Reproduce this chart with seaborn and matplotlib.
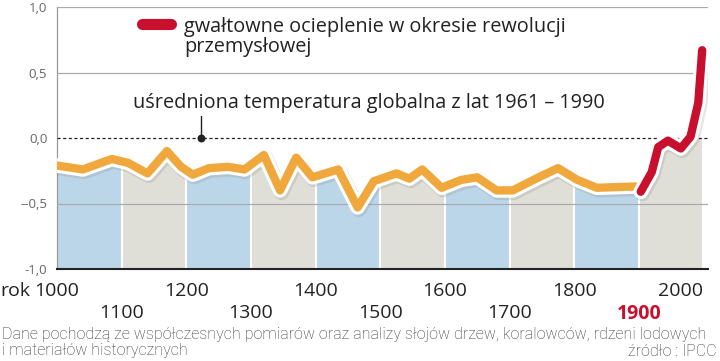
import matplotlib
matplotlib.use("Agg")
import matplotlib.pyplot as plt
import matplotlib.patheffects as pe
from matplotlib.lines import Line2D
import seaborn as sns
import pandas as pd

# dane (anomalia temperatury, st. C)
lata_hist = [1000, 1040, 1085, 1110, 1140, 1170, 1192, 1210, 1235, 1265, 1290, 1320, 1345, 1370,
             1395, 1435, 1465, 1490, 1525, 1545, 1565, 1595, 1625, 1650, 1680, 1705,
             1745, 1775, 1805, 1835, 1895]
temp_hist = [-0.21, -0.24, -0.16, -0.19, -0.27, -0.10, -0.22, -0.28, -0.23, -0.22, -0.24, -0.13,
             -0.40, -0.15, -0.30, -0.24, -0.53, -0.33, -0.27, -0.31, -0.24, -0.38, -0.32, -0.30,
             -0.40, -0.40, -0.30, -0.23, -0.32, -0.38, -0.37]
lata_rew = [1903, 1920, 1930, 1945, 1965, 1980, 1992, 1998]
temp_rew = [-0.41, -0.26, -0.07, -0.02, -0.08, 0.01, 0.27, 0.67]

stulecia = list(range(1000, 2000, 100))
etykiety_gora = ["1000", "1200", "1400", "1600", "1800", "2000"]
etykiety_dol = ["1100", "1300", "1500", "1700", "1900"]
y_ticks = [-1.0, -0.5, 0.0, 0.5, 1.0]
y_etykiety = ["-1,0", "--0,5", "0,0", "0,5", "1,0"]
rok_sredniej = 1223

ORANGE = "#f0a83c"
RED = "#c8102e"
BLUE = "#bbd6e9"
GREY = "#dfded7"

sns.set_theme(style="white")
plt.rcParams["font.family"] = ["Open Sans", "DejaVu Sans"]

df_hist = pd.DataFrame({"rok": lata_hist, "temp": temp_hist})
df_rew = pd.DataFrame({"rok": lata_rew, "temp": temp_rew})
df_all = pd.concat([df_hist, df_rew])

fig = plt.figure(figsize=(7.2, 3.61), dpi=100)
ax = fig.add_axes([57 / 720, 1 - 269 / 361, (708 - 57) / 720, 262 / 361])
ax.set_xlim(1000, 2007)
ax.set_ylim(-1, 1)

# pasy stuleci
for i, s in enumerate(stulecia):
    ax.axvspan(s, s + 100, ymin=0, ymax=0.5, facecolor=BLUE if i % 2 == 0 else GREY,
               edgecolor="white", lw=1.5, zorder=1)
# biale tlo nad krzywa
ax.fill_between(df_all["rok"], df_all["temp"], 0, color="white", lw=0, zorder=2)

for y in [1.0, 0.5, -0.5]:
    ax.axhline(y, color="#aaaaaa", lw=0.9, zorder=3)
ax.axhline(0, color="#222222", lw=0.9, ls=(0, (2.5, 2)), zorder=3)

fx = [pe.SimpleLineShadow(offset=(1, -1.5), shadow_color="#888888", alpha=0.22, linewidth=11),
      pe.Stroke(linewidth=10.5, foreground="white"), pe.Normal()]
sns.lineplot(data=df_hist, x="rok", y="temp", color=ORANGE, lw=6, ax=ax, zorder=5)
sns.lineplot(data=df_rew, x="rok", y="temp", color=RED, lw=6, ax=ax, zorder=6)
for ln in ax.lines[-2:]:
    ln.set_solid_capstyle("round")
    ln.set_solid_joinstyle("round")
    ln.set_path_effects(fx)

# adnotacja sredniej
ax.plot([rok_sredniej, rok_sredniej], [0, 0.17], color="#222222", lw=1, zorder=4)
ax.scatter([rok_sredniej], [0], s=22, color="#222222", zorder=4)
ax.text(1118, 0.265, "uśredniona temperatura globalna z lat 1961 – 1990",
        fontsize=14.3, color="#222222", va="center", ha="left", zorder=7)

# legenda
fig.add_artist(Line2D([142 / 720, 171 / 720], [1 - 24 / 361, 1 - 24 / 361], color=RED,
                      lw=8, solid_capstyle="round"))
fig.text(184 / 720, 1 - 37 / 361, "gwałtowne ocieplenie w okresie rewolucji\nprzemysłowej",
         fontsize=14.3, color="#222222", va="center", ha="left", linespacing=1.05)

# osie
ax.set_yticks(y_ticks, y_etykiety, fontsize=9.5, color="#666666")
ax.tick_params(axis="y", length=0, pad=7)
ax.set_xticks(stulecia[::2] + [2000], etykiety_gora)
ax.set_xticks(stulecia[1::2], etykiety_dol, minor=True)
ax.tick_params(axis="x", which="major", length=0, pad=9, labelsize=14, labelcolor="#222222")
ax.tick_params(axis="x", which="minor", length=0, pad=25, labelsize=14, labelcolor="#222222")
for lab in ax.get_xticklabels(minor=True):
    if lab.get_text() == "1900":
        lab.set_color(RED)
        lab.set_fontweight("bold")
ax.get_xticklabels()[-1].set_ha("right")
ax.set_xlabel("")
ax.set_ylabel("")
fig.text(30 / 720, 1 - 291 / 361, "rok", fontsize=14, color="#222222", ha="right", va="center")

for side in ["top", "right"]:
    ax.spines[side].set_visible(False)
ax.spines["left"].set_color("#999999")
ax.spines["left"].set_linewidth(0.9)
ax.spines["bottom"].set_color("#222222")
ax.spines["bottom"].set_linewidth(1.5)

# podpis
cap = dict(fontsize=11.5, color="#333333", family=["Roboto", "DejaVu Sans"],
           fontweight="light", va="center")
fig.text(2 / 720, 1 - 334 / 361,
         "Dane pochodzą ze współczesnych pomiarów oraz analizy słojów drzew, koralowców, rdzeni lodowych",
         ha="left", **cap)
fig.text(2 / 720, 1 - 351 / 361, "i materiałów historycznych", ha="left", **cap)
fig.text(717 / 720, 1 - 351 / 361, "źródło : IPCC", ha="right", **cap)

fig.savefig("out.png", dpi=100)
